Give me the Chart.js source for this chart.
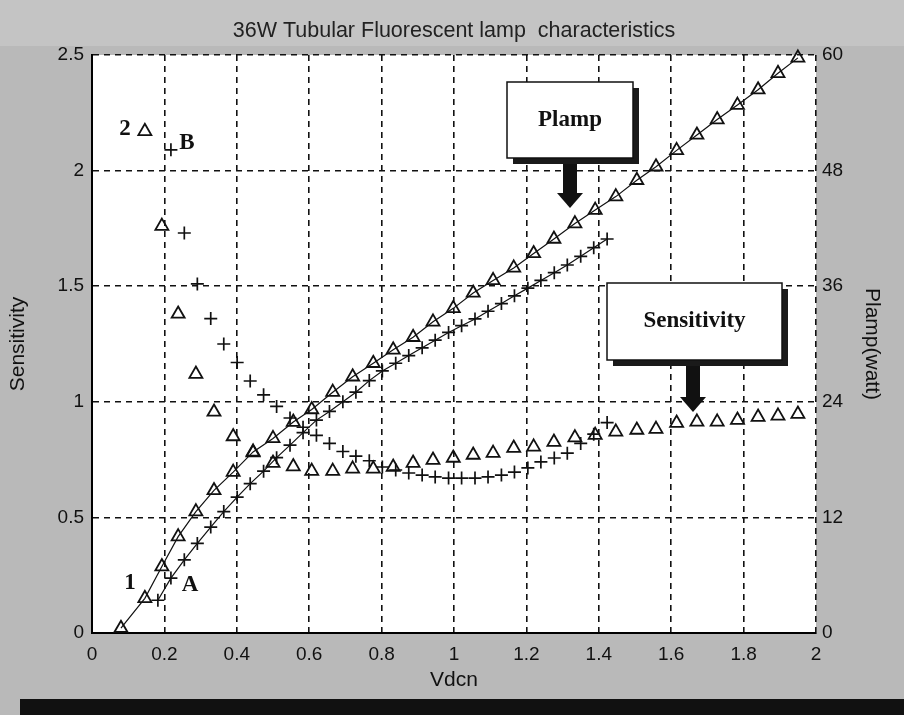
<!DOCTYPE html>
<html>
<head>
<meta charset="utf-8">
<title>36W Tubular Fluorescent lamp characteristics</title>
<script src="https://cdn.jsdelivr.net/npm/chart.js@4.4.1/dist/chart.umd.min.js"></script>
<style>
  html, body { margin: 0; padding: 0; background: #b9b9b9; }
  #wrap { width: 904px; height: 715px; position: relative; }
</style>
</head>
<body>
<div id="wrap"><canvas id="lampChart" width="904" height="715"></canvas></div>
<script>
// Curve 1 / 2 (triangles) - same Vdcn points for Plamp and Sensitivity
const triX = [0.08, 0.146, 0.193, 0.238, 0.287, 0.337, 0.39, 0.445, 0.5, 0.556, 0.607, 0.665, 0.72, 0.777,
  0.832, 0.887, 0.942, 0.998, 1.053, 1.108, 1.165, 1.22, 1.276, 1.334, 1.39, 1.447, 1.505, 1.558, 1.615,
  1.671, 1.727, 1.783, 1.84, 1.895, 1.95];
const triPlamp = [0.5, 3.6, 6.9, 10, 12.6, 14.8, 16.7, 18.8, 20.2, 21.9, 23.2, 25, 26.6, 28,
  29.4, 30.7, 32.3, 33.7, 35.3, 36.6, 37.9, 39.4, 40.9, 42.5, 43.9, 45.3, 47, 48.4, 50.1,
  51.7, 53.3, 54.8, 56.4, 58.1, 59.7];
const triSens = [null, 2.17, 1.76, 1.38, 1.12, 0.956, 0.85, 0.78, 0.735, 0.72, 0.70, 0.70, 0.71, 0.71,
  0.718, 0.735, 0.748, 0.757, 0.77, 0.778, 0.80, 0.805, 0.826, 0.845, 0.856, 0.87, 0.878, 0.882, 0.908,
  0.913, 0.913, 0.921, 0.934, 0.939, 0.947];

// Curve A / B (crosses)
const crossX = [0.182, 0.218, 0.255, 0.291, 0.328, 0.364, 0.401, 0.437, 0.474, 0.51, 0.547, 0.583, 0.62,
  0.656, 0.693, 0.729, 0.766, 0.802, 0.839, 0.875, 0.912, 0.948, 0.985, 1.021, 1.058, 1.094, 1.131,
  1.167, 1.204, 1.24, 1.277, 1.313, 1.35, 1.386, 1.423];
const crossPlamp = [3.4, 5.7, 7.6, 9.3, 11.0, 12.6, 14.1, 15.5, 16.8, 18.2, 19.5, 20.8, 22.1,
  23.0, 24.0, 25.0, 26.2, 27.2, 28.0, 28.8, 29.6, 30.4, 31.2, 31.9, 32.6, 33.4, 34.2,
  35.0, 35.8, 36.6, 37.4, 38.2, 39.1, 40.0, 40.9];
const crossSens = [null, 2.09, 1.73, 1.51, 1.36, 1.25, 1.17, 1.09, 1.03, 0.98, 0.93, 0.89, 0.855,
  0.82, 0.785, 0.765, 0.745, 0.718, 0.705, 0.692, 0.683, 0.675, 0.67, 0.67, 0.67, 0.675, 0.683,
  0.696, 0.714, 0.74, 0.757, 0.778, 0.82, 0.86, 0.91];

// tick labels
const xTicks = [0, 0.2, 0.4, 0.6, 0.8, 1, 1.2, 1.4, 1.6, 1.8, 2];
const sensTicks = [0, 0.5, 1, 1.5, 2, 2.5];
const wattTicks = [0, 12, 24, 36, 48, 60];

const chartTitle = '36W Tubular Fluorescent lamp  characteristics';
const sansFont = '"Liberation Sans", Arial, sans-serif';
const serifFont = '"Liberation Serif", "Times New Roman", serif';

function toPoints(xs, ys) {
  const pts = [];
  xs.forEach((x, i) => {
    if (ys[i] !== null) pts.push({ x: x, y: ys[i] });
  });
  return pts;
}

// grey paper, white plot area, dark bar at the bottom
const paperPlugin = {
  id: 'paper',
  beforeDraw: (chart) => {
    const { ctx, chartArea } = chart;
    ctx.save();
    ctx.fillStyle = '#b9b9b9';
    ctx.fillRect(0, 0, chart.width, chart.height);
    ctx.fillStyle = '#c4c4c4';
    ctx.fillRect(0, 0, chart.width, 46);
    ctx.fillStyle = '#ffffff';
    ctx.fillRect(chartArea.left, chartArea.top, chartArea.right - chartArea.left, chartArea.bottom - chartArea.top);
    ctx.fillStyle = '#111';
    ctx.fillRect(20, 699, chart.width - 20, 16);
    ctx.restore();
  }
};

function box(ctx, x, y, w, h, text) {
  ctx.fillStyle = '#1a1a1a';
  ctx.fillRect(x + 6, y + 6, w, h);
  ctx.fillStyle = '#fff';
  ctx.fillRect(x, y, w, h);
  ctx.strokeStyle = '#111';
  ctx.lineWidth = 1.5;
  ctx.strokeRect(x, y, w, h);
  ctx.fillStyle = '#111';
  ctx.font = 'bold 23px ' + serifFont;
  ctx.textAlign = 'center';
  ctx.textBaseline = 'middle';
  ctx.fillText(text, x + w / 2, y + h / 2);
}

function arrow(ctx, cx, top, headTop, tip) {
  ctx.fillStyle = '#111';
  ctx.fillRect(cx - 7, top, 14, headTop - top + 1);
  ctx.beginPath();
  ctx.moveTo(cx - 13, headTop);
  ctx.lineTo(cx + 13, headTop);
  ctx.lineTo(cx, tip);
  ctx.closePath();
  ctx.fill();
}

const notesPlugin = {
  id: 'notes',
  afterDraw: (chart) => {
    const { ctx } = chart;
    ctx.save();
    // title
    ctx.fillStyle = '#222';
    ctx.font = '21.5px ' + sansFont;
    ctx.textAlign = 'center';
    ctx.textBaseline = 'middle';
    ctx.fillText(chartTitle, 454, 31);

    // callouts
    box(ctx, 507, 82, 126, 76, 'Plamp');
    arrow(ctx, 570, 164, 193, 208);
    box(ctx, 607, 283, 175, 77, 'Sensitivity');
    arrow(ctx, 693, 366, 397, 412);

    // curve labels
    ctx.font = 'bold 23px ' + serifFont;
    ctx.fillStyle = '#111';
    ctx.fillText('2', 125, 129);
    ctx.fillText('B', 187, 143);
    ctx.fillText('1', 130, 583);
    ctx.fillText('A', 190, 585);
    ctx.restore();
  }
};

const tickFont = { family: sansFont, size: 19 };
const titleFont = { family: sansFont, size: 21 };

const ctx = document.getElementById('lampChart').getContext('2d');
new Chart(ctx, {
  type: 'scatter',
  data: {
    datasets: [
      {
        label: 'Plamp 1',
        data: toPoints(triX, triPlamp),
        yAxisID: 'y1',
        showLine: true,
        borderColor: '#111',
        borderWidth: 1.2,
        pointStyle: 'triangle',
        pointRadius: 7.5,
        pointBorderWidth: 1.8,
        pointBorderColor: '#111',
        pointBackgroundColor: 'rgba(0,0,0,0)',
        clip: false
      },
      {
        label: 'Plamp A',
        data: toPoints(crossX, crossPlamp),
        yAxisID: 'y1',
        showLine: true,
        borderColor: '#111',
        borderWidth: 1.2,
        pointStyle: 'cross',
        pointRadius: 6.5,
        pointBorderWidth: 1.7,
        pointBorderColor: '#111',
        clip: false
      },
      {
        label: 'Sensitivity 2',
        data: toPoints(triX, triSens),
        yAxisID: 'y',
        showLine: false,
        pointStyle: 'triangle',
        pointRadius: 7.5,
        pointBorderWidth: 1.8,
        pointBorderColor: '#111',
        pointBackgroundColor: 'rgba(0,0,0,0)',
        clip: false
      },
      {
        label: 'Sensitivity B',
        data: toPoints(crossX, crossSens),
        yAxisID: 'y',
        showLine: false,
        pointStyle: 'cross',
        pointRadius: 6.5,
        pointBorderWidth: 1.7,
        pointBorderColor: '#111',
        clip: false
      }
    ]
  },
  options: {
    responsive: false,
    animation: false,
    events: [],
    layout: { padding: { top: 55, left: 0, right: 0, bottom: 0 } },
    plugins: {
      legend: { display: false },
      tooltip: { enabled: false }
    },
    scales: {
      x: {
        type: 'linear',
        min: 0,
        max: 2,
        afterBuildTicks: (s) => { s.ticks = xTicks.map(v => ({ value: v })); },
        afterFit: (s) => { s.height = 82; },
        grid: { color: '#111', lineWidth: 1.6, drawTicks: false },
        border: { display: true, color: '#000', width: 2, dash: [6, 5] },
        ticks: { color: '#111', font: tickFont, padding: 10, maxRotation: 0, autoSkip: false, callback: (v) => String(v) },
        title: { display: true, text: 'Vdcn', color: '#111', font: titleFont, padding: { top: 0, bottom: 22 } }
      },
      y: {
        type: 'linear',
        position: 'left',
        min: 0,
        max: 2.5,
        afterBuildTicks: (s) => { s.ticks = sensTicks.map(v => ({ value: v })); },
        afterFit: (s) => { s.width = 92; },
        grid: { color: '#111', lineWidth: 1.6, drawTicks: false },
        border: { display: true, color: '#000', width: 2, dash: [6, 5] },
        ticks: { color: '#111', font: tickFont, padding: 8, callback: (v) => String(v) },
        title: { display: true, text: 'Sensitivity', color: '#111', font: titleFont, padding: { top: 6, bottom: 0 } }
      },
      y1: {
        type: 'linear',
        position: 'right',
        min: 0,
        max: 60,
        afterBuildTicks: (s) => { s.ticks = wattTicks.map(v => ({ value: v })); },
        afterFit: (s) => { s.width = 88; },
        grid: { display: false, drawTicks: false },
        border: { display: false },
        ticks: { color: '#111', font: tickFont, padding: 6, callback: (v) => String(v) },
        title: { display: true, text: 'Plamp(watt)', color: '#111', font: titleFont, padding: { top: 20, bottom: 0 } }
      }
    }
  },
  plugins: [paperPlugin, notesPlugin]
});
</script>
</body>
</html>
